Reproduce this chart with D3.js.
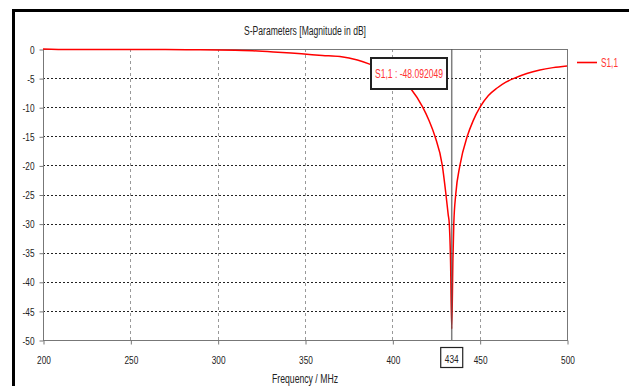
<!DOCTYPE html>
<html><head><meta charset="utf-8">
<script src="https://cdn.jsdelivr.net/npm/d3@7"></script>
<style>
body{margin:0;background:#fff;}
svg{display:block;}
text{font-family:"Liberation Sans",Arial,sans-serif;}
</style></head><body>
<svg id="c" width="629" height="386"></svg>
<script>
const freq = [200,215,230,250,270,290,310,320,332,342,351,360,370,380,387,395,402,411,417.4,421,424.4,428.6,430.7,432,432.6,433.3,434,434.7,435.2,436.3,438.7,442.9,446.3,450.2,455,460,465,470,477,484.5,492,500];
const s11  = [0,-0.1,-0.1,-0.1,-0.1,-0.15,-0.2,-0.3,-0.5,-0.7,-0.9,-1.1,-1.3,-1.9,-2.6,-3.6,-4.9,-7.0,-10,-12.3,-15,-20,-25,-28.5,-30,-36,-48.092049,-36,-30,-25,-20,-15,-12.3,-10,-8.0,-6.7,-5.7,-5.0,-4.2,-3.6,-3.2,-2.9];
const xTicks = [200,250,300,350,400,450,500];
const yTicks = [0,-5,-10,-15,-20,-25,-30,-35,-40,-45,-50];
const markerFreq = 434;
const markerValue = -48.092049;
const seriesName = "S1,1";
const title = "S-Parameters [Magnitude in dB]";
const xLabel = "Frequency / MHz";

const svg = d3.select("#c");
const L=43, R=567, T=49, B=340;
const x = d3.scaleLinear().domain([200,500]).range([L,R]);
const y = d3.scaleLinear().domain([-50,0]).range([B,T]);

function condense(sel, factor){
  sel.each(function(){
    const w = this.getComputedTextLength();
    d3.select(this).attr("textLength", w*factor).attr("lengthAdjust","spacingAndGlyphs");
  });
}
function fitTo(sel, width){
  sel.attr("textLength", width).attr("lengthAdjust","spacingAndGlyphs");
}

// outer frame
svg.append("line").attr("x1",12).attr("x2",629).attr("y1",10.5).attr("y2",10.5).attr("stroke","#000").attr("stroke-width",3);
svg.append("line").attr("x1",13.5).attr("x2",13.5).attr("y1",9).attr("y2",386).attr("stroke","#000").attr("stroke-width",3);

// title
fitTo(svg.append("text").attr("x",(L+R)/2).attr("y",35).attr("text-anchor","middle").attr("font-size",12).attr("fill","#222").text(title), 122);

// grid
svg.append("g").selectAll("line").data(yTicks.filter(d=>d!==0 && d!==-50)).join("line")
  .attr("x1",L).attr("x2",R).attr("y1",d=>Math.round(y(d))+0.5).attr("y2",d=>Math.round(y(d))+0.5)
  .attr("stroke","#222").attr("stroke-width",1).attr("stroke-dasharray","2,2");
svg.append("g").selectAll("line").data(xTicks.filter(d=>d!==200 && d!==500)).join("line")
  .attr("x1",d=>Math.round(x(d))+0.5).attr("x2",d=>Math.round(x(d))+0.5).attr("y1",T).attr("y2",B)
  .attr("stroke","#999").attr("stroke-width",1).attr("stroke-dasharray","3,3");

// plot border
svg.append("rect").attr("x",L+0.5).attr("y",T+0.5).attr("width",R-L).attr("height",B-T)
  .attr("fill","none").attr("stroke","#777").attr("stroke-width",1);

// axes
const fmt = d => String(d);
const xAxis = svg.append("g").attr("transform",`translate(0.5,${B+0.5})`)
  .call(d3.axisBottom(x).tickValues(xTicks).tickSize(4).tickPadding(11).tickFormat(fmt));
const yAxis = svg.append("g").attr("transform",`translate(${L+0.5},0.5)`)
  .call(d3.axisLeft(y).tickValues(yTicks).tickSize(4).tickPadding(5).tickFormat(fmt));
[xAxis,yAxis].forEach(a=>{
  a.select(".domain").remove();
  a.selectAll(".tick line").attr("stroke","#777");
  a.selectAll(".tick text").attr("font-size",11.5).attr("fill","#222").style("font-family",'"Liberation Sans",Arial,sans-serif');
  condense(a.selectAll(".tick text"), 0.72);
});

// curve
svg.append("clipPath").attr("id","pc").append("rect").attr("x",L).attr("y",T-2).attr("width",R-L+1).attr("height",B-T+2);
const line = d3.line().x((d,i)=>x(freq[i])).y(d=>y(d)).curve(d3.curveMonotoneX);
svg.append("path").datum(s11).attr("d",line).attr("fill","none").attr("stroke","#f00").attr("stroke-width",1.5).attr("clip-path","url(#pc)");

// marker line
svg.append("line").attr("x1",x(markerFreq)).attr("x2",x(markerFreq)).attr("y1",T).attr("y2",B)
  .attr("stroke","#555").attr("stroke-width",1.5).attr("opacity",0.75);

// marker label box
const bx=371, by=58, bw=76, bh=31;
svg.append("rect").attr("x",bx).attr("y",by).attr("width",bw).attr("height",bh).attr("fill","#fff").attr("stroke","#222").attr("stroke-width",2);
fitTo(svg.append("text").attr("x",bx+bw/2).attr("y",by+20).attr("text-anchor","middle").attr("font-size",12.5).attr("fill","#f33")
  .text(seriesName + " : " + String(markerValue)), 68);

// marker x label
const mx = x(markerFreq);
svg.append("rect").attr("x",mx-11).attr("y",347.5).attr("width",22).attr("height",20).attr("fill","#fff").attr("stroke","#222").attr("stroke-width",1.2);
condense(svg.append("text").attr("x",mx).attr("y",363).attr("text-anchor","middle").attr("font-size",11.5).attr("fill","#222").text(String(markerFreq)), 0.72);

// x label
fitTo(svg.append("text").attr("x",(L+R)/2).attr("y",383).attr("text-anchor","middle").attr("font-size",12).attr("fill","#222").text(xLabel), 66);

// legend
svg.append("line").attr("x1",577).attr("x2",597).attr("y1",62.5).attr("y2",62.5).attr("stroke","#f00").attr("stroke-width",1.6);
fitTo(svg.append("text").attr("x",601).attr("y",67).attr("font-size",12.5).attr("fill","#f33").text(seriesName), 17);
</script>
</body></html>
